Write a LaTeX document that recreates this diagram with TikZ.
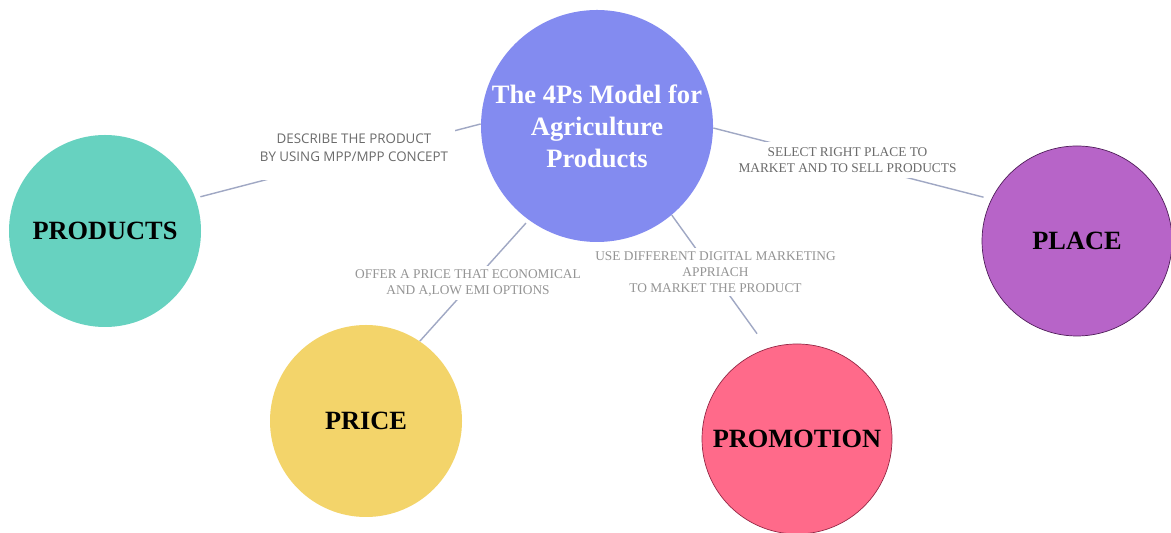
\documentclass[tikz,border=0pt]{standalone}
\usepackage{fontspec}
\setmainfont{Liberation Serif}
\newfontfamily\notesans{Open Sans}
\usepackage{tikz}
\usetikzlibrary{calc}
\definecolor{hubblue}{RGB}{131,139,240}
\definecolor{prodteal}{RGB}{103,210,192}
\definecolor{priceyellow}{RGB}{243,212,106}
\definecolor{promopink}{RGB}{255,106,138}
\definecolor{promoedge}{RGB}{150,40,70}
\definecolor{placepurple}{RGB}{183,100,200}
\definecolor{placeedge}{RGB}{80,30,90}
\definecolor{linkgray}{RGB}{160,168,196}
\definecolor{notegray}{rgb}{.42,.42,.42}
\definecolor{notelight}{rgb}{.58,.58,.58}

\begin{document}
\begin{tikzpicture}[
  ball/.style={circle,inner sep=0pt,minimum size=3.84cm,font=\fontsize{15}{18}\selectfont\bfseries},
  link/.style={draw=linkgray,line width=0.8pt},
  note/.style={fill=white,inner sep=0.08cm,align=center,text=notelight,font=\fontsize{7.6}{9.1}\selectfont}
]
\useasboundingbox (0,0) rectangle (23.42,10.66);
\fill[white] (0,0) rectangle (23.42,10.66);

\draw (11.94,8.14) node[ball,fill=hubblue,minimum size=4.64cm,text=white,align=center,font=\fontsize{15.1}{18.2}\selectfont\bfseries] (hub) {The 4Ps Model for\\Agriculture\\Products};

\draw (2.10,6.04) node[ball,fill=prodteal] (prod) {PRODUCTS};
\draw (7.32,2.24) node[ball,fill=priceyellow] (price) {PRICE};
\draw (15.94,1.88) node[ball,fill=promopink,draw=promoedge,thin,minimum size=3.8cm] (promo) {PROMOTION};
\draw (21.54,5.84) node[ball,fill=placepurple,draw=placeedge,thin,minimum size=3.8cm] (place) {PLACE};

\draw[link,shorten >=0.1cm] (hub.179) -- (prod.20);
\draw[link,shorten >=0.16cm] (hub.-1) -- (place.154);
\draw[link,shorten <=0.08cm] (hub.234) -- (price.56);
\draw[link,shorten >=0.36cm] (hub.-50) -- (promo.108);

% texts on the links
\draw (7.08,7.70) node[note,text=notegray,inner xsep=0.14cm,inner ysep=0.36cm,font=\notesans\fontsize{7.6}{10.2}\selectfont] (nprod) {DESCRIBE THE PRODUCT\\BY USING MPP/MPP CONCEPT};
\draw (16.95,7.46) node[note,text=notegray,inner ysep=0.12cm] (nplace) {SELECT RIGHT PLACE TO\\MARKET AND TO SELL PRODUCTS};
\draw (9.36,5.00) node[note] (nprice) {OFFER A PRICE THAT\ ECONOMICAL\\AND A,LOW EMI OPTIONS};
\draw (14.31,5.22) node[note] (npromo) {USE DIFFERENT DIGITAL\ MARKETING\\APPRIACH\\TO MARKET THE PRODUCT};
\end{tikzpicture}
\end{document}
